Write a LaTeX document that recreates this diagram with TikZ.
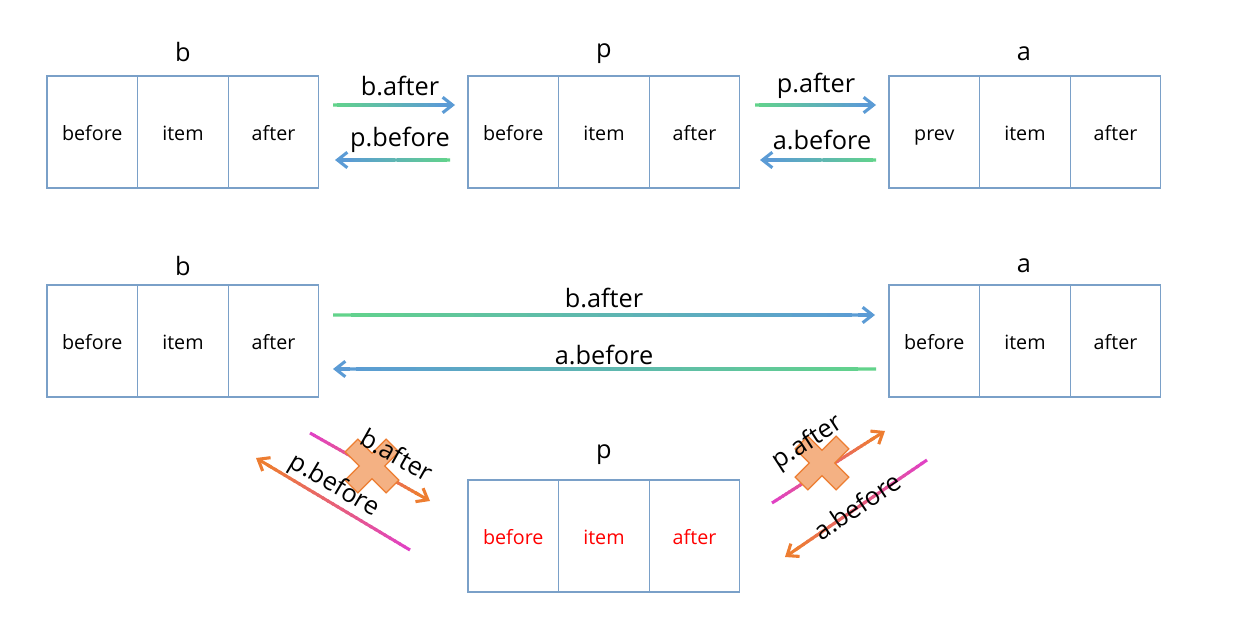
\documentclass[tikz,border=0pt]{standalone}
\usepackage{fontspec}
\setmainfont{Open Sans}
\usetikzlibrary{arrows.meta,calc}
\definecolor{boxc}{HTML}{7AA0C8}
\definecolor{gr}{HTML}{62D48A}
\definecolor{bl}{HTML}{5B9BD5}
\definecolor{mg}{HTML}{E040C8}
\definecolor{og}{HTML}{ED7D31}
\definecolor{xfill}{HTML}{F4B183}
\newcommand\gradarrow[4]{%
  \coordinate (ge) at ($(#2)!9pt!(#1)$);
  \foreach \i in {1,...,30}{%
    \pgfmathtruncatemacro\p{100-(\i-0.5)*100/30}%
    \draw[line width=2.2pt,line cap=butt,draw={#3!\p!#4}] ($(#1)!{(\i-1)/30}!(ge)$) -- ($(#1)!{min(1,(\i+0.4)/30)}!(ge)$);
  }%
  \draw[line width=2.2pt,draw=#4,-{Straight Barb[length=7pt,width=11pt]}] ($(#2)!12pt!(#1)$) -- (#2);
}
\newcommand\crossmark[2]{%
  \filldraw[fill=xfill,draw=og,line width=0.8pt,shift={(#1)},rotate=#2]
    (-9,-29) -- (9,-29) -- (9,-9) -- (29,-9) -- (29,9) -- (9,9) -- (9,29) -- (-9,29) -- (-9,9) -- (-29,9) -- (-29,-9) -- (-9,-9) -- cycle;
}
\tikzset{
  cell/.style={draw=boxc,line width=0.8pt,minimum width=2.265cm,minimum height=2.8cm,inner sep=0pt,outer sep=0pt,
    text height=13pt,text depth=1.5pt,font=\fontsize{14pt}{16pt}\selectfont,anchor=west},
  ttl/.style={font=\fontsize{18pt}{20pt}\selectfont,inner sep=0pt},
  lbl/.style={font=\fontsize{18pt}{20pt}\selectfont,inner sep=0pt},
}
\begin{document}
\begin{tikzpicture}[x=0.025cm,y=-0.025cm]
\useasboundingbox (0,0) rectangle (1239,643);
% row 1 boxes
\node[cell] (b1) at (47,132) {before};
\node[cell] (b2) at (b1.east) {item};
\node[cell] (b3) at (b2.east) {after};
\node[cell] (p1) at (468,132) {before};
\node[cell] (p2) at (p1.east) {item};
\node[cell] (p3) at (p2.east) {after};
\node[cell] (a1) at (889,132) {prev};
\node[cell] (a2) at (a1.east) {item};
\node[cell] (a3) at (a2.east) {after};
\node[ttl] (tb) at (183,52) {b};
\node[ttl] (tp) at (604,54) {p};
\node[ttl] (ta) at (1024,54) {a};
% row 2 boxes
\node[cell] (bb1) at (47,341) {before};
\node[cell] (bb2) at (bb1.east) {item};
\node[cell] (bb3) at (bb2.east) {after};
\node[cell] (aa1) at (889,341) {before};
\node[cell] (aa2) at (aa1.east) {item};
\node[cell] (aa3) at (aa2.east) {after};
\node[cell,text=red] (pp1) at (468,536) {before};
\node[cell,text=red] (pp2) at (pp1.east) {item};
\node[cell,text=red] (pp3) at (pp2.east) {after};
\node[ttl] (tbb) at (183,266) {b};
\node[ttl] (taa) at (1024,266) {a};
\node[ttl] (tpp) at (604,455) {p};
% row 1 arrows
\coordinate (c1s) at (333,105); \coordinate (c1e) at (455,105);
\coordinate (c2s) at (450,160); \coordinate (c2e) at (335,160);
\coordinate (c3s) at (755,105); \coordinate (c3e) at (876,105);
\coordinate (c4s) at (876,160); \coordinate (c4e) at (760,160);
\gradarrow{c1s}{c1e}{gr}{bl}
\gradarrow{c2s}{c2e}{gr}{bl}
\gradarrow{c3s}{c3e}{gr}{bl}
\gradarrow{c4s}{c4e}{gr}{bl}
\node[lbl] (l1) at (400,86) {b.after};
\node[lbl] (l2) at (400,140) {p.before};
\node[lbl] (l3) at (816,86) {p.after};
\node[lbl] (l4) at (822,140) {a.before};
% row 2 arrows
\coordinate (d1s) at (333,315); \coordinate (d1e) at (875,315);
\coordinate (d2s) at (876,369); \coordinate (d2e) at (333,369);
\gradarrow{d1s}{d1e}{gr}{bl}
\gradarrow{d2s}{d2e}{gr}{bl}
\node[lbl] (l5) at (604,298) {b.after};
\node[lbl] (l6) at (604,355) {a.before};
% broken links left
\coordinate (e1s) at (310,433); \coordinate (e1e) at (430,501);
\coordinate (e2s) at (410,550); \coordinate (e2e) at (256,458);
\gradarrow{e1s}{e1e}{mg}{og}
\gradarrow{e2s}{e2e}{mg}{og}
\coordinate (x1) at (372,466);
\crossmark{x1}{45}
\node[lbl,rotate=-29.5] (l7) at (397,455) {b.after};
\node[lbl,rotate=-30.7] (l8) at (334,486) {p.before};
% broken links right
\coordinate (f1s) at (772,503); \coordinate (f1e) at (885,431);
\coordinate (f2s) at (927,460); \coordinate (f2e) at (785,557);
\gradarrow{f1s}{f1e}{mg}{og}
\gradarrow{f2s}{f2e}{mg}{og}
\coordinate (x2) at (822,463);
\crossmark{x2}{45}
\node[lbl,rotate=33] (l9) at (808,443) {p.after};
\node[lbl,rotate=34] (l10) at (857,506) {a.before};
\end{tikzpicture}
\end{document}
